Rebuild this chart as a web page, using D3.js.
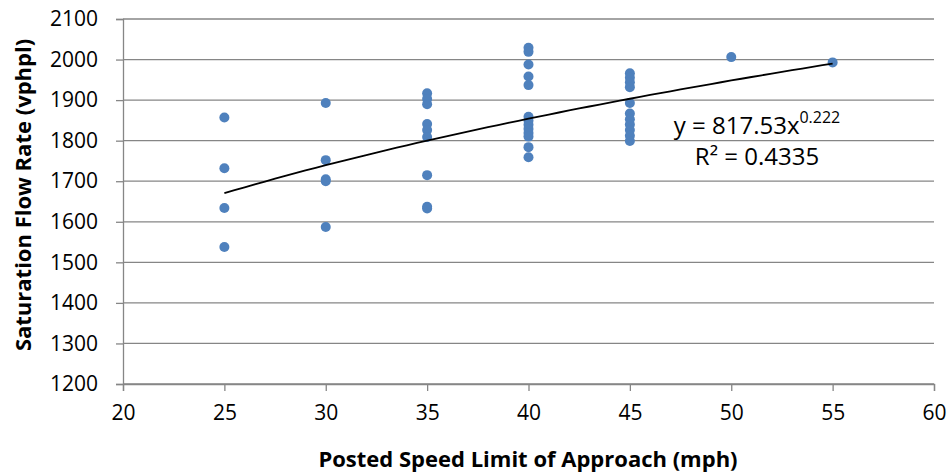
<!DOCTYPE html>
<html>
<head>
<meta charset="utf-8">
<script src="https://cdn.jsdelivr.net/npm/d3@7"></script>
<style>
  body { margin: 0; background: #fff; }
  text { font-family: "Open Sans", "Noto Sans", sans-serif; fill: #000; }
</style>
</head>
<body>
<div id="chart"></div>
<script>
const speeds = [
    25, 25, 25, 25,
    30, 30, 30, 30, 30,
    35, 35, 35, 35, 35, 35, 35, 35, 35,
    40, 40, 40, 40, 40, 40, 40, 40, 40, 40, 40, 40, 40,
    45, 45, 45, 45, 45, 45, 45, 45, 45, 45, 45,
    50,
    55
];
const flows = [
    1857, 1732, 1634, 1538,
    1893, 1752, 1705, 1700, 1587,
    1917, 1903, 1890, 1841, 1826, 1809, 1715, 1637, 1633,
    2029, 2019, 1988, 1958, 1937, 1859, 1849, 1839, 1829, 1819, 1810, 1784, 1759,
    1966, 1955, 1944, 1932, 1893, 1867, 1853, 1840, 1826, 1812, 1799,
    2006,
    1993
];
const xTicks = [20, 25, 30, 35, 40, 45, 50, 55, 60];
const yTicks = [1200, 1300, 1400, 1500, 1600, 1700, 1800, 1900, 2000, 2100];

// power trendline as labelled on the chart
const fitA = 817.53;
const fitB = 0.222;
const fitR2 = "0.4335";
const fitRange = [25, 55];

const width = 949;
const height = 475;
const margin = { top: 19, right: 15, bottom: 91, left: 123 };

const svg = d3.select("#chart")
    .append("svg")
    .attr("width", width)
    .attr("height", height);

const x = d3.scaleLinear()
    .domain([20, 60])
    .range([margin.left, width - margin.right]);

const y = d3.scaleLinear()
    .domain([1200, 2100])
    .range([height - margin.bottom, margin.top]);

const gridColor = "#868686";

// horizontal gridlines
svg.append("g")
    .selectAll("line")
    .data(yTicks)
    .join("line")
    .attr("x1", x(20))
    .attr("x2", x(60))
    .attr("y1", d => y(d))
    .attr("y2", d => y(d))
    .attr("stroke", gridColor)
    .attr("stroke-width", 1.3);

// x axis
const xAxis = svg.append("g")
    .attr("transform", `translate(0,${y(1200)})`)
    .call(d3.axisBottom(x).tickValues(xTicks).tickSize(7).tickPadding(14).tickFormat(d3.format("d")));
xAxis.select(".domain").attr("stroke", gridColor).attr("stroke-width", 1.3);
xAxis.selectAll(".tick line").attr("stroke", gridColor).attr("stroke-width", 1.3);
xAxis.selectAll("text").style("font-size", "21px");

// y axis
const yAxis = svg.append("g")
    .attr("transform", `translate(${x(20)},0)`)
    .call(d3.axisLeft(y).tickValues(yTicks).tickSize(7).tickPadding(18).tickFormat(d3.format("d")));
yAxis.select(".domain").attr("stroke", gridColor).attr("stroke-width", 1.3);
yAxis.selectAll(".tick line").attr("stroke", gridColor).attr("stroke-width", 1.3);
yAxis.selectAll("text").style("font-size", "21px");

// data points
const points = speeds.map((s, i) => ({ speed: s, flow: flows[i] }));
svg.append("g")
    .selectAll("circle")
    .data(points)
    .join("circle")
    .attr("cx", d => x(d.speed))
    .attr("cy", d => y(d.flow))
    .attr("r", 5)
    .attr("fill", "#4F81BD");

// trendline
const fitX = d3.range(fitRange[0], fitRange[1] + 0.01, 0.5);
svg.append("path")
    .datum(fitX)
    .attr("fill", "none")
    .attr("stroke", "#000")
    .attr("stroke-width", 1.8)
    .attr("d", d3.line()
        .x(d => x(d))
        .y(d => y(fitA * Math.pow(d, fitB))));

// trendline label
const eq = svg.append("text")
    .attr("x", 757)
    .attr("y", 134)
    .attr("text-anchor", "middle")
    .style("font-size", "24px");
eq.append("tspan").text(`y = ${fitA}x`);
eq.append("tspan")
    .attr("dy", -11)
    .style("font-size", "16px")
    .text(fitB);

svg.append("text")
    .attr("x", 757)
    .attr("y", 165)
    .attr("text-anchor", "middle")
    .style("font-size", "24px")
    .text(`R² = ${fitR2}`);

// axis titles
svg.append("text")
    .attr("x", 528)
    .attr("y", 467)
    .attr("text-anchor", "middle")
    .style("font-size", "22px")
    .style("font-weight", "bold")
    .text("Posted Speed Limit of Approach (mph)");

svg.append("text")
    .attr("transform", "rotate(-90)")
    .attr("x", -195)
    .attr("y", 31)
    .attr("text-anchor", "middle")
    .style("font-size", "22px")
    .style("font-weight", "bold")
    .text("Saturation Flow Rate (vphpl)");
</script>
</body>
</html>
